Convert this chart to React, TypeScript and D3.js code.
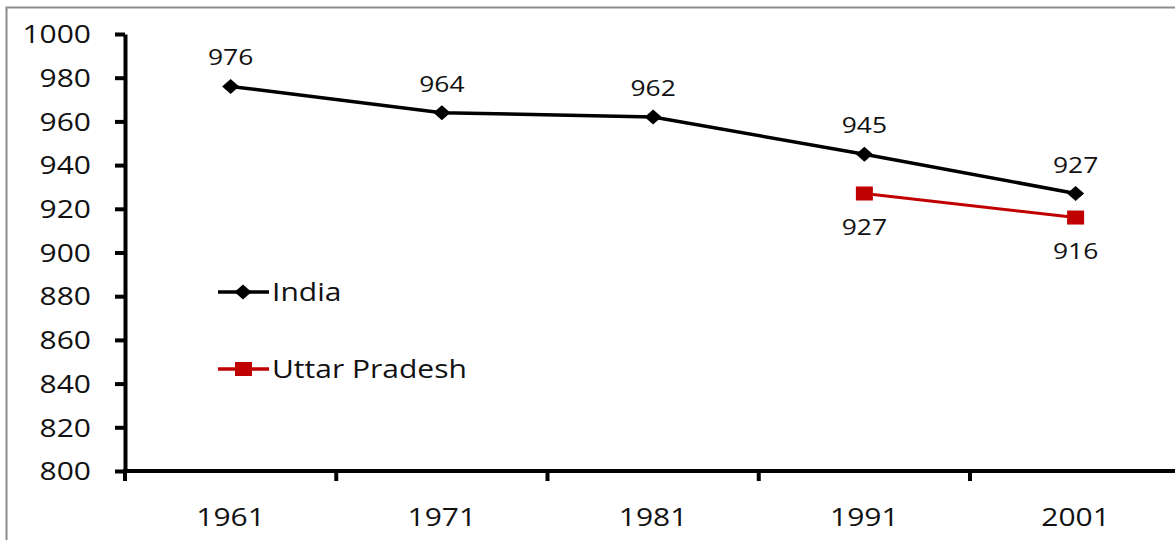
import React, {useEffect, useRef} from "react";
import * as d3 from "d3";

const years: string[] = ["1961", "1971", "1981", "1991", "2001"];
const indiaValues: number[] = [976, 964, 962, 945, 927];
const upYears: string[] = ["1991", "2001"];
const upValues: number[] = [927, 916];
const yTicks: number[] = [800, 820, 840, 860, 880, 900, 920, 940, 960, 980, 1000];

const ColorIndia: string = "#000000";
const ColorUP: string = "#C00000";
const TextColor: string = "#111111";
const FontFamily: string = "'Open Sans', 'Noto Sans', sans-serif";
const Stretch: number = 1.2;

const width = 1175;
const height = 540;
const margin = {top: 34, left: 125, bottom: 69};

function diamondPath(cx: number, cy: number): string {
  return `M${cx},${cy - 7.5}L${cx + 8.5},${cy}L${cx},${cy + 7.5}L${cx - 8.5},${cy}Z`;
}

export default function App(): React.ReactElement {
  const svgRef = useRef<SVGSVGElement>(null);

  useEffect(() => {
    if (svgRef.current === null) return;
    const svg = d3.select(svgRef.current);
    svg.selectAll("*").remove();

    const x = d3.scaleBand<string>().domain(years).range([margin.left, margin.left + 211.25 * years.length]);
    const y = d3.scaleLinear().domain([800, 1000]).range([height - margin.bottom, margin.top]);
    const cx = (yr: string): number => (x(yr) as number) + x.bandwidth() / 2;

    // frame
    svg.append("rect")
      .attr("x", 6.5).attr("y", 7.5)
      .attr("width", width + 20).attr("height", height + 20)
      .attr("fill", "none").attr("stroke", "#8c8c8c").attr("stroke-width", 2);

    // y axis
    const yAxis = svg.append("g").attr("transform", `translate(${margin.left},0)`);
    yAxis.call(d3.axisLeft(y).tickValues(yTicks).tickSize(10).tickSizeOuter(0).tickFormat(d3.format("d")));
    yAxis.select(".domain").attr("stroke", "#000").attr("stroke-width", 4);
    yAxis.selectAll(".tick line").attr("stroke", "#000").attr("stroke-width", 4);
    yAxis.selectAll(".tick text")
      .attr("x", null)
      .attr("dy", "0.35em")
      .attr("transform", `translate(-34,0) scale(${Stretch},1)`)
      .attr("fill", TextColor)
      .style("font-family", FontFamily)
      .style("font-size", "25px");

    // x axis
    const x0 = margin.left;
    const yBase = y(800);
    const xAxis = svg.append("g");
    xAxis.append("line")
      .attr("x1", x0 - 2).attr("x2", width)
      .attr("y1", yBase).attr("y2", yBase)
      .attr("stroke", "#000").attr("stroke-width", 4);
    xAxis.selectAll(".xtick")
      .data(years)
      .join("line")
      .attr("class", "xtick")
      .attr("x1", (d) => x(d) as number).attr("x2", (d) => x(d) as number)
      .attr("y1", yBase).attr("y2", yBase + 10)
      .attr("stroke", "#000").attr("stroke-width", 4);
    xAxis.selectAll(".xlabel")
      .data(years)
      .join("text")
      .attr("class", "xlabel")
      .attr("transform", (d) => `translate(${cx(d)},${yBase + 55}) scale(${Stretch},1)`)
      .attr("text-anchor", "middle")
      .attr("fill", TextColor)
      .style("font-family", FontFamily)
      .style("font-size", "25px")
      .text((d) => d);

    const line = d3.line<[string, number]>().x((d) => cx(d[0])).y((d) => y(d[1]));
    const indiaData: [string, number][] = years.map((yr, i) => [yr, indiaValues[i]]);
    const upData: [string, number][] = upYears.map((yr, i) => [yr, upValues[i]]);

    // India
    svg.append("path").datum(indiaData)
      .attr("d", line).attr("fill", "none")
      .attr("stroke", ColorIndia).attr("stroke-width", 3.5);
    svg.selectAll(".indiaPt").data(indiaData).join("path")
      .attr("class", "indiaPt")
      .attr("d", (d) => diamondPath(cx(d[0]), y(d[1])))
      .attr("fill", ColorIndia);
    svg.selectAll(".indiaLbl").data(indiaData).join("text")
      .attr("class", "indiaLbl")
      .attr("transform", (d) => `translate(${cx(d[0])},${y(d[1]) - 21}) scale(${Stretch},1)`)
      .attr("text-anchor", "middle")
      .attr("fill", TextColor)
      .style("font-family", FontFamily)
      .style("font-size", "22px")
      .text((d) => d[1]);

    // Uttar Pradesh
    svg.append("path").datum(upData)
      .attr("d", line).attr("fill", "none")
      .attr("stroke", ColorUP).attr("stroke-width", 3);
    svg.selectAll(".upPt").data(upData).join("rect")
      .attr("class", "upPt")
      .attr("x", (d) => cx(d[0]) - 8.5).attr("y", (d) => y(d[1]) - 7)
      .attr("width", 17).attr("height", 14)
      .attr("fill", ColorUP);
    svg.selectAll(".upLbl").data(upData).join("text")
      .attr("class", "upLbl")
      .attr("transform", (d) => `translate(${cx(d[0])},${y(d[1]) + 41}) scale(${Stretch},1)`)
      .attr("text-anchor", "middle")
      .attr("fill", TextColor)
      .style("font-family", FontFamily)
      .style("font-size", "22px")
      .text((d) => d[1]);

    // legend
    const legend = [
      {name: "India", color: ColorIndia, y: 292, marker: "diamond"},
      {name: "Uttar Pradesh", color: ColorUP, y: 369, marker: "square"},
    ];
    legend.forEach((item) => {
      const g = svg.append("g");
      g.append("line")
        .attr("x1", 218).attr("x2", 269)
        .attr("y1", item.y).attr("y2", item.y)
        .attr("stroke", item.color).attr("stroke-width", 3.5);
      if (item.marker === "diamond") {
        g.append("path").attr("d", diamondPath(243, item.y)).attr("fill", item.color);
      } else {
        g.append("rect").attr("x", 235).attr("y", item.y - 7).attr("width", 17).attr("height", 14).attr("fill", item.color);
      }
      g.append("text")
        .attr("transform", `translate(272,${item.y + 9}) scale(${Stretch},1)`)
        .attr("fill", TextColor)
        .style("font-family", FontFamily)
        .style("font-size", "25px")
        .text(item.name);
    });
  }, []);

  return (
    <svg ref={svgRef} width={width} height={height}
         style={{position: "absolute", left: 0, top: 0, background: "#fff"}}></svg>
  );
}
